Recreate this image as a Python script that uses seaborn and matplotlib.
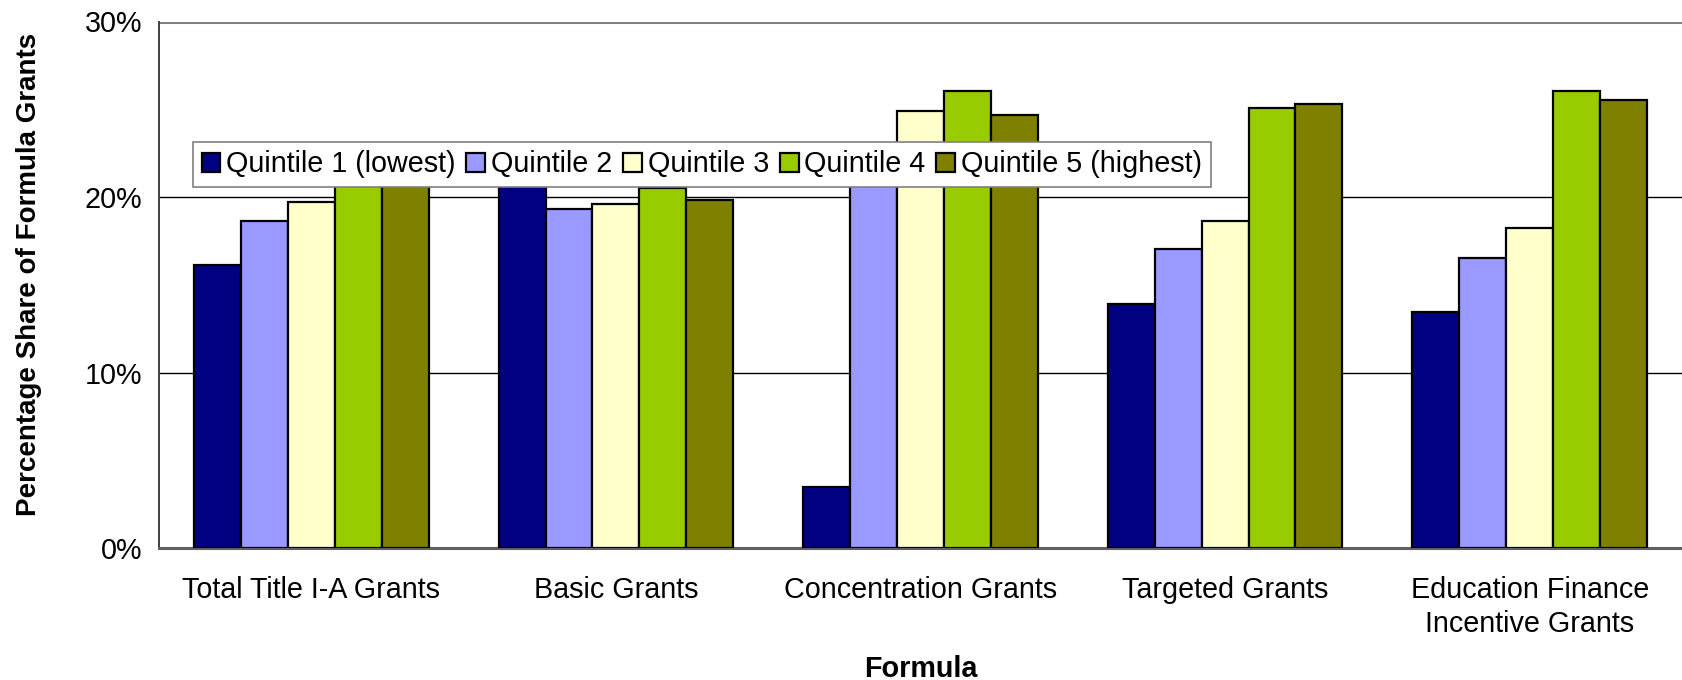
import pandas as pd
import numpy as np
import matplotlib
matplotlib.use('Agg')
import matplotlib.pyplot as plt
import seaborn as sns

# chart values (percentage share of formula grants by quintile)
formulas = ['Total Title I-A Grants', 'Basic Grants', 'Concentration Grants',
            'Targeted Grants', 'Education Finance\nIncentive Grants']
quintiles = ['Quintile 1 (lowest)', 'Quintile 2', 'Quintile 3', 'Quintile 4', 'Quintile 5 (highest)']
q1 = [16.15, 20.7, 3.47, 13.92, 13.43]
q2 = [18.61, 19.34, 20.92, 17.01, 16.53]
q3 = [19.73, 19.62, 24.9, 18.64, 18.24]
q4 = [23.1, 20.5, 26.04, 25.05, 26.03]
q5 = [22.41, 19.83, 24.67, 25.3, 25.54]
yticks = [0, 10, 20, 30]

colors = ['#000080', '#9999FF', '#FFFFCC', '#99CC00', '#808000']

rows = []
for qname, vals in zip(quintiles, [q1, q2, q3, q4, q5]):
    for f, v in zip(formulas, vals):
        rows.append({'Formula': f, 'Quintile': qname, 'Share': v})
df = pd.DataFrame(rows)

sns.set_style('white')
plt.rcParams['font.family'] = ['Liberation Sans', 'DejaVu Sans']
plt.rcParams['text.color'] = 'black'
plt.rcParams['xtick.color'] = 'black'
plt.rcParams['ytick.color'] = 'black'
plt.rcParams['axes.labelcolor'] = 'black'

fs = 20.7

fig = plt.figure(figsize=(16.82, 6.8), dpi=100)
ax = fig.add_axes([159 / 1682, 1 - 548 / 680, 1 - 159 / 1682, (548 - 21.5) / 680])

sns.barplot(data=df, x='Formula', y='Share', hue='Quintile', palette=colors,
            width=0.77, saturation=1, edgecolor='black', linewidth=1.6,
            errorbar=None, ax=ax, zorder=3)

ax.set_xlim(-0.5, len(formulas) - 0.5)
ax.set_ylim(0, 30)
ax.set_yticks(yticks)
ax.set_yticklabels([f'{v}%' for v in yticks], fontsize=fs)

# horizontal gridlines
for v in [10, 20]:
    ax.axhline(v, color='black', linewidth=1, zorder=1)
ax.axhline(30, color='#808080', linewidth=2.2, zorder=1)

# category ticks between groups
ax.set_xticks(range(len(formulas)))
ax.set_xticklabels(formulas, fontsize=fs, linespacing=1.3)
ax.set_xticks(np.arange(-0.5, len(formulas), 1.0), minor=True)
ax.tick_params(axis='x', which='major', length=0, pad=20)
ax.tick_params(axis='x', which='minor', length=11, width=1, color='#404040', direction='out')
ax.tick_params(axis='y', length=8, width=1, color='#404040', direction='out', pad=4)

for s in ['top', 'right']:
    ax.spines[s].set_visible(False)
ax.spines['left'].set_color('#404040')
ax.spines['left'].set_linewidth(1.4)
ax.spines['bottom'].set_color('#606060')
ax.spines['bottom'].set_linewidth(2.2)

ax.set_xlabel('Formula', fontsize=fs, fontweight='bold')
ax.xaxis.set_label_coords(0.5, -0.203)
ax.set_ylabel('Percentage Share of Formula Grants', fontsize=20, fontweight='bold')
ax.yaxis.set_label_coords(-0.077, 0.52)

handles, labels = ax.get_legend_handles_labels()
leg = ax.legend(handles, labels, ncol=5, loc='upper left',
                bbox_to_anchor=(193 / 1682, 1 - 141.6 / 680), bbox_transform=fig.transFigure,
                fontsize=fs, frameon=True, fancybox=False, shadow=False, framealpha=1,
                handlelength=0.65, handleheight=0.65, handletextpad=0.2,
                columnspacing=0.38, borderpad=0.3, borderaxespad=0)
leg.get_frame().set_edgecolor('#808080')
leg.get_frame().set_linewidth(1.2)
leg.set_zorder(5)

plt.savefig('out.png', dpi=100)
